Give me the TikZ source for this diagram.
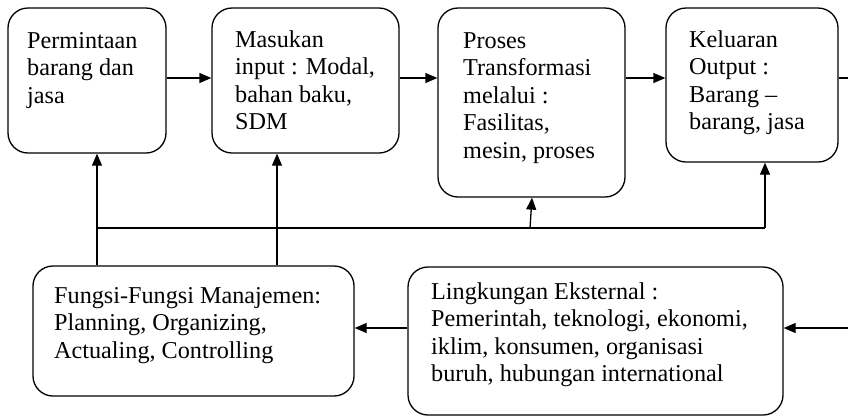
\documentclass[tikz,border=0pt]{standalone}
\usepackage{fontspec}
\setmainfont{Liberation Serif}
\usetikzlibrary{arrows.meta}
\newcommand{\mltext}[1]{\begin{tabular}[t]{@{}l@{}}#1\end{tabular}}
\begin{document}
\begin{tikzpicture}[x=1pt,y=-1pt,
  box/.style={draw, line width=1.3pt, rounded corners=20pt, inner sep=0pt},
  txt/.style={anchor=base west, inner sep=0pt, font=\fontsize{24.2}{27.5}\selectfont},
  conn/.style={line width=1.3pt},
  arr/.style={conn, -{Triangle[length=12pt,width=10pt]}}]
\useasboundingbox (0,0) rectangle (848,416);

% boxes
\node[box, minimum width=158pt, minimum height=145pt] (B1) at (87,80.5) {};
\node[box, minimum width=187pt, minimum height=145pt] (B2) at (305.5,80.5) {};
\node[box, minimum width=187pt, minimum height=189pt] (B3) at (531.5,102.5) {};
\node[box, minimum width=172pt, minimum height=154pt] (B4) at (752,85) {};
\node[box, minimum width=321pt, minimum height=130pt] (B5) at (193.5,331) {};
\node[box, minimum width=375pt, minimum height=148pt] (B6) at (595.5,341) {};

% texts
\node[txt] (T1) at (27,48) {\mltext{Permintaan\\barang dan\\jasa}};
\node[txt] (T2) at (235,47) {\mltext{Masukan\\input : Modal,\\bahan baku,\\SDM}};
\node[txt] (T3) at (463,48) {\mltext{Proses\\Transformasi\\melalui :\\Fasilitas,\\mesin, proses}};
\node[txt] (T4) at (689,47) {\mltext{Keluaran\\Output :\\Barang --\\barang, jasa}};
\node[txt] (T5) at (54,303) {\mltext{Fungsi-Fungsi Manajemen:\\Planning, Organizing,\\Actualing, Controlling}};
\node[txt] (T6) at (431,299) {\mltext{Lingkungan Eksternal :\\Pemerintah, teknologi, ekonomi,\\iklim, konsumen, organisasi\\buruh, hubungan international}};

% helper coordinates
\coordinate (r1) at (0,78);
\coordinate (r2) at (0,328);
\coordinate (outR) at (848,78);
\coordinate (inR) at (848,328);
\coordinate (h1) at (97,228);
\coordinate (h4) at (765,228);
\coordinate (h3) at (530,228);
\coordinate (h3t) at (532,228);
\coordinate (v2) at (277,228);

% top row arrows
\draw[arr] (B1.east |- r1) -- (B2.west |- r1);
\draw[arr] (B2.east |- r1) -- (B3.west |- r1);
\draw[arr] (B3.east |- r1) -- (B4.west |- r1);
\draw[conn] (B4.east |- r1) -- (outR);

% bottom row arrows
\draw[arr] (inR) -- (B6.east |- r2);
\draw[arr] (B6.west |- r2) -- (B5.east |- r2);

% feedback
\draw[arr] (B5.north -| h1) -- (B1.south -| h1);
\draw[arr] (B5.north -| v2) -- (B2.south -| v2);
\draw[conn] (h1) -- (h4);
\draw[arr] (h4) -- (B4.south -| h4);
\draw[arr] (h3) -- (B3.south -| h3t);
\end{tikzpicture}
\end{document}
